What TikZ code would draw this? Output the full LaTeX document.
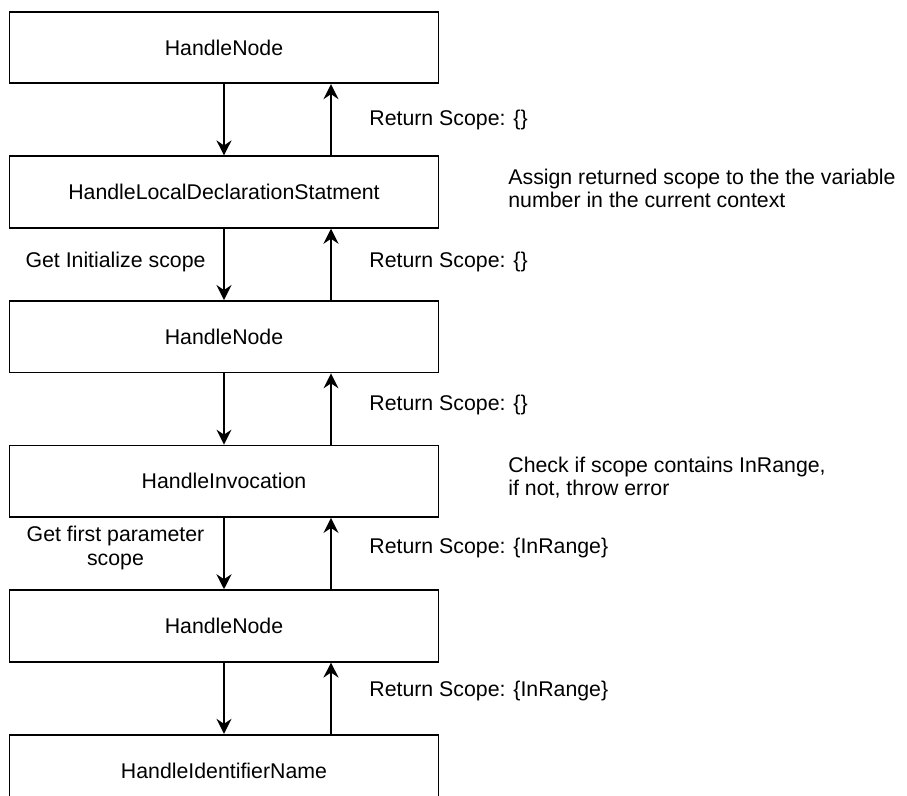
\documentclass[tikz,border=0pt]{standalone}
\usepackage{fontspec}
\setmainfont{Liberation Sans}
\usetikzlibrary{positioning,arrows.meta}
\tikzset{
  handlebox/.style={draw,line width=0.9pt,minimum width=214.5pt,minimum height=35.75pt,inner sep=0pt},
  flow/.style={line width=0.9pt,-{Stealth[length=7.5pt,width=7.5pt,inset=2.5pt]}},
  scopelabel/.style={anchor=west,inner sep=0pt},
  notelabel/.style={anchor=west,inner sep=0pt,align=left}
}

\begin{document}
\begin{tikzpicture}[x=0.5pt,y=-0.5pt,font=\fontsize{10.65}{11.65}\selectfont]
\clip (0,0) rectangle (907,796);
\node [handlebox] (node1) at (224,47.5) {HandleNode};
\node [handlebox,below=35.65pt of node1] (decl) {HandleLocalDeclarationStatment};
\node [handlebox,below=35.65pt of decl] (node2) {HandleNode};
\node [handlebox,below=35.65pt of node2] (invoke) {HandleInvocation};
\node [handlebox,below=35.65pt of invoke] (node3) {HandleNode};
\node [handlebox,below=35.65pt of node3] (ident) {HandleIdentifierName};

% calls going down, scopes coming back up
\foreach \upper/\lower in {node1/decl,decl/node2,node2/invoke,invoke/node3,node3/ident}
{
  \draw [flow] (\upper.south) -- (\lower.north);
  \draw [flow] ([xshift=53.5pt]\lower.north) -- ([xshift=53.5pt]\upper.south);
}

\node [scopelabel] (ret1) at (369,119.5) {Return Scope: \{\}};
\node [scopelabel] (ret2) at (369,262.3) {Return Scope: \{\}};
\node [scopelabel] (ret3) at (369,405.1) {Return Scope: \{\}};
\node [scopelabel] (ret4) at (369,547.9) {Return Scope: \{InRange\}};
\node [scopelabel] (ret5) at (369,690.7) {Return Scope: \{InRange\}};

\node (getinit) at (115.5,262.3) {Get Initialize scope};
\node [align=center] (getfirst) at (115.5,548) {Get first parameter\\scope};

\node [notelabel] (assign) at (508,188.5) {Assign returned scope to the the variable\\number in the current context};
\node [notelabel] (check) at (508,477.5) {Check if scope contains InRange,\\if not, throw error};
\end{tikzpicture}
\end{document}
